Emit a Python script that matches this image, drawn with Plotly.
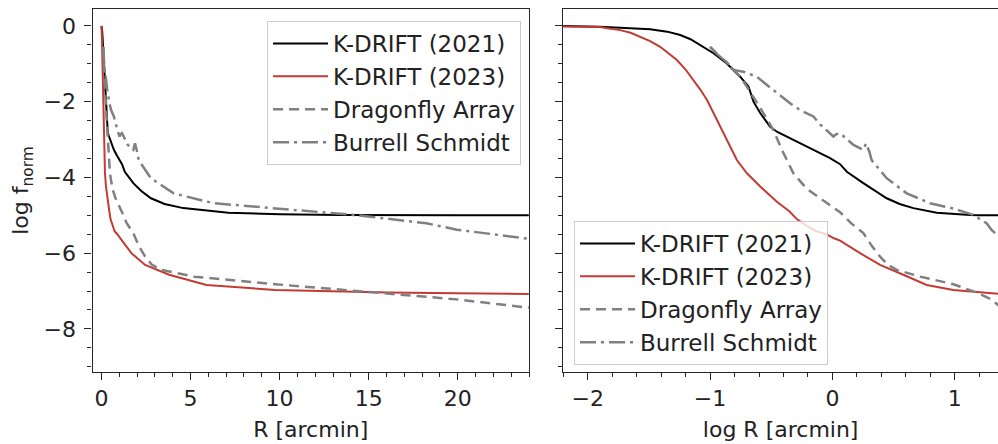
import numpy as np
import plotly.graph_objects as go

# ---- data ----
labels = ["K-DRIFT (2021)", "K-DRIFT (2023)", "Dragonfly Array", "Burrell Schmidt"]

# log R [arcmin] and log f_norm
logr_kd21 = [-2.4, -2.2, -1.9, -1.7, -1.49, -1.35, -1.244, -1.16, -1.081, -0.972, -0.863,
             -0.754, -0.686, -0.645, -0.59, -0.509, -0.45, -0.4, -0.264, -0.155, -0.06,
             -0.019, 0.063, 0.118, 0.253, 0.35, 0.444, 0.55, 0.662, 0.853, 1.0, 1.125,
             1.2, 1.3, 1.38]
f_kd21 = [0.0, 0.0, -0.02, -0.05, -0.09, -0.15, -0.24, -0.35, -0.50, -0.72, -0.99,
          -1.34, -1.60, -2.0, -2.30, -2.66, -2.80, -2.88, -3.10, -3.27, -3.42,
          -3.49, -3.65, -3.85, -4.15, -4.36, -4.55, -4.70, -4.81, -4.93, -4.97, -4.99,
          -5.0, -5.0, -5.0]

logr_kd23 = [-2.4, -2.2, -1.898, -1.84, -1.734, -1.65, -1.571, -1.49, -1.408, -1.34,
             -1.271, -1.2, -1.136, -1.08, -1.026, -0.944, -0.863, -0.781, -0.699, -0.59,
             -0.454, -0.35, -0.291, -0.2, -0.13, -0.05, 0.008, 0.063, 0.226, 0.39, 0.58,
             0.771, 0.989, 1.207, 1.3, 1.38]
f_kd23 = [0.0, -0.01, -0.03, -0.06, -0.11, -0.18, -0.28, -0.40, -0.55, -0.72,
          -0.90, -1.15, -1.43, -1.68, -1.95, -2.48, -3.01, -3.54, -3.89, -4.24,
          -4.64, -4.90, -5.10, -5.30, -5.42, -5.50, -5.60, -5.67, -6.0, -6.31, -6.57,
          -6.84, -6.97, -7.04, -7.06, -7.08]

logr_df = [-1.0, -0.94, -0.863, -0.8, -0.754, -0.7, -0.645, -0.564, -0.482, -0.413,
           -0.319, -0.209, -0.1, 0.063, 0.15, 0.253, 0.32, 0.39, 0.45, 0.526, 0.717,
           0.989, 1.18, 1.3, 1.38]
f_df = [-0.55, -0.75, -0.96, -1.17, -1.34, -1.6, -1.87, -2.30, -2.75, -3.27,
        -3.89, -4.30, -4.55, -4.92, -5.2, -5.47, -5.8, -6.09, -6.3, -6.44, -6.62,
        -6.82, -7.04, -7.22, -7.44]

logr_bs = [-1.0, -0.94, -0.863, -0.809, -0.727, -0.618, -0.55, -0.482, -0.346, -0.264,
           -0.155, -0.1, -0.046, 0.008, 0.03, 0.063, 0.172, 0.253, 0.275, 0.30, 0.322,
           0.444, 0.608, 0.798, 0.989, 1.152, 1.261, 1.3, 1.38]
f_bs = [-0.55, -0.75, -0.96, -1.16, -1.21, -1.34, -1.52, -1.69, -2.04, -2.22,
        -2.39, -2.60, -2.75, -2.92, -2.86, -2.83, -3.14, -3.27, -3.10, -3.30, -3.55,
        -4.02, -4.42, -4.68, -4.82, -4.99, -5.21, -5.38, -5.62]

series = [(logr_kd21, f_kd21), (logr_kd23, f_kd23), (logr_df, f_df), (logr_bs, f_bs)]
colors = ["#000000", "#c23b33", "#808080", "#808080"]
dashes = ["solid", "solid", "10px,6px", "16px,5px,3px,5px"]
widths = [2, 2, 2.5, 2.5]

fig = go.Figure()
for i, (lr, f) in enumerate(series):
    lr = np.array(lr)
    r = 10 ** lr
    fig.add_trace(go.Scatter(x=r, y=f, mode="lines", name=labels[i],
                             line=dict(color=colors[i], dash=dashes[i], width=widths[i]),
                             xaxis="x", yaxis="y", legend="legend",
                             legendgroup="a%d" % i))
for i, (lr, f) in enumerate(series):
    fig.add_trace(go.Scatter(x=lr, y=f, mode="lines", name=labels[i],
                             line=dict(color=colors[i], dash=dashes[i], width=widths[i]),
                             xaxis="x2", yaxis="y2", legend="legend2",
                             legendgroup="b%d" % i))

axcol = "#262626"
txtcol = "#222222"
tickfont = dict(family="DejaVu Sans", size=22, color=txtcol)
titlefont = dict(family="DejaVu Sans", size=22, color=txtcol)
common = dict(showgrid=False, zeroline=False, showline=True, linecolor=axcol, linewidth=1.3,
              ticks="outside", ticklen=7, tickwidth=1.3, tickcolor=axcol,
              tickfont=tickfont, automargin=False)
ydom = [1 - 371.7 / 444, 1 - 9.3 / 444]
minor_common = dict(ticks="outside", ticklen=4, tickwidth=1, tickcolor=axcol, tick0=0)
legend_common = dict(bgcolor="rgba(255,255,255,0.8)", bordercolor="#cccccc", borderwidth=1,
                     font=dict(family="DejaVu Sans", size=23, color=txtcol),
                     itemwidth=55, tracegroupgap=4, traceorder="normal")

fig.update_layout(
    width=998, height=444,
    margin=dict(l=0, r=0, t=0, b=0),
    paper_bgcolor="white", plot_bgcolor="white",
    font=dict(family="DejaVu Sans", color=txtcol),
    xaxis=dict(domain=[92.5 / 998, 529 / 998], range=[-0.5, 24], tickvals=[0, 5, 10, 15, 20],
               ticktext=["0", "5", "10", "15", "20"], mirror=True,
               minor=dict(dtick=1, **minor_common),
               title=dict(text="R [arcmin]", font=titlefont, standoff=11), anchor="y", **common),
    yaxis=dict(domain=ydom, range=[-9.13, 0.44], tickvals=[0, -2, -4, -6, -8],
               ticktext=["0", "\u22122", "\u22124", "\u22126", "\u22128"], mirror=True,
               ticklabelstandoff=4,
               minor=dict(dtick=0.5, **minor_common),
               title=dict(text="log f<sub>norm</sub>", font=titlefont, standoff=8), anchor="x", **common),
    xaxis2=dict(domain=[563.3 / 998, 1.0], range=[-2.2, 1.354], tickvals=[-2, -1, 0, 1],
                ticktext=["\u22122", "\u22121", "0", "1"], mirror=True,
                minor=dict(dtick=0.2, **minor_common),
                title=dict(text="log R [arcmin]", font=titlefont, standoff=11), anchor="y2", **common),
    yaxis2=dict(domain=ydom, range=[-9.13, 0.44], tickvals=[0, -2, -4, -6, -8],
                showticklabels=False, mirror=False,
                minor=dict(dtick=0.5, **minor_common),
                anchor="x2", **common),
    legend=dict(x=521 / 998, y=1 - 21 / 444, xanchor="right", yanchor="top", **legend_common),
    legend2=dict(x=574 / 998, y=1 - 221 / 444, xanchor="left", yanchor="top", **legend_common),
)

fig.write_html("out.html", config={"displayModeBar": False},
               post_script="document.body.style.margin='0px';")
